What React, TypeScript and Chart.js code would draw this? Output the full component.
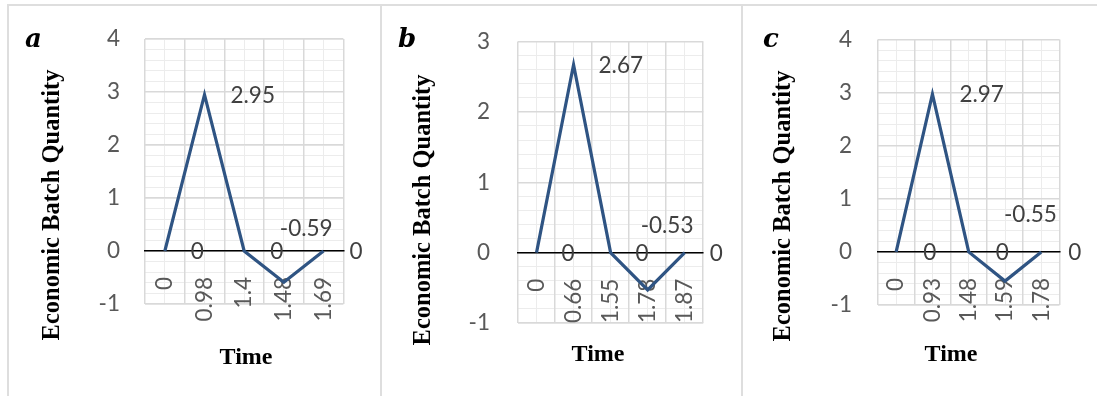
import React, { useEffect, useRef } from "react";
import { Chart, registerables } from "chart.js";

Chart.register(...registerables);

// ---------- data ----------
const TIME_A = ["0", "0.98", "1.4", "1.48", "1.69"];
const EBQ_A = [0, 2.95, 0, -0.59, 0];
const Y_TICKS_A = [-1, 0, 1, 2, 3, 4];

const TIME_B = ["0", "0.66", "1.55", "1.78", "1.87"];
const EBQ_B = [0, 2.67, 0, -0.53, 0];
const Y_TICKS_B = [-1, 0, 1, 2, 3];

const TIME_C = ["0", "0.93", "1.48", "1.59", "1.78"];
const EBQ_C = [0, 2.97, 0, -0.55, 0];
const Y_TICKS_C = [-1, 0, 1, 2, 3, 4];

const PANEL_LETTERS = ["a", "b", "c"];
const Y_TITLE = "Economic Batch Quantity";
const X_TITLE = "Time";

// ---------- layout / style (page coordinates) ----------
const LAYOUT_A = {
  canvasLeft: 8, canvasWidth: 372, borderLeft: 7,
  area: { left: 145, right: 345, top: 39, bottom: 304 },
  tickGap: 25, letterAt: [25, 47], yTitleAt: [53, 205], xTitleAt: [246, 358],
  labelDx: 26, negLabel: [-4, -54],
};
const LAYOUT_B = {
  canvasLeft: 381, canvasWidth: 360, borderLeft: 380,
  area: { left: 518, right: 708, top: 39, bottom: 323 },
  tickGap: 28, letterAt: [398, 47], yTitleAt: [424, 210], xTitleAt: [598, 355],
  labelDx: 25, negLabel: [-7, -64],
};
const LAYOUT_C = {
  canvasLeft: 742, canvasWidth: 355, borderLeft: 741,
  area: { left: 878, right: 1070, top: 39, bottom: 305 },
  tickGap: 26, letterAt: [763, 47], yTitleAt: [784, 206], xTitleAt: [951, 355],
  labelDx: 27, negLabel: [-1, -66],
};

const PAGE_H = 396;
const LINE_COLOR = "#2f5483";
const TICK_COLOR = "#595959";
const LABEL_COLOR = "#404040";
const MAJOR_GRID = "#d9d9d9";
const MINOR_GRID = "#ececec";
const TICK_FONT = { family: "Lato", size: 22.5 };
const SERIF = '"Liberation Serif", "Times New Roman", serif';

const panelTextPlugin = {
  id: "panelText",
  afterDatasetsDraw(chart: any, _args: any, opts: any) {
    const ctx = chart.ctx;
    const meta = chart.getDatasetMeta(0);
    const values = chart.data.datasets[0].data;
    ctx.save();
    ctx.font = `${TICK_FONT.size}px ${TICK_FONT.family}`;
    ctx.fillStyle = LABEL_COLOR;
    ctx.textAlign = "left";
    ctx.textBaseline = "middle";
    meta.data.forEach((pt: any, i: number) => {
      const v = values[i];
      const txt = String(v);
      if (v < 0) {
        ctx.fillText(txt, pt.x + opts.negLabel[0], pt.y + opts.negLabel[1]);
      } else {
        ctx.fillText(txt, pt.x + opts.labelDx, pt.y + 1);
      }
    });
    ctx.restore();
  },
  afterDraw(chart: any, _args: any, opts: any) {
    const ctx = chart.ctx;
    const off = opts.offset;
    ctx.save();
    ctx.fillStyle = "#000";
    // panel letter
    ctx.font = `italic bold 26px "DejaVu Serif", serif`;
    ctx.textAlign = "left";
    ctx.textBaseline = "alphabetic";
    ctx.fillText(opts.letter, opts.letterAt[0] - off, opts.letterAt[1]);
    // x title
    ctx.font = `bold 24px ${SERIF}`;
    ctx.textAlign = "center";
    ctx.textBaseline = "middle";
    ctx.fillText(X_TITLE, opts.xTitleAt[0] - off, opts.xTitleAt[1]);
    // y title
    ctx.font = `bold 24.5px ${SERIF}`;
    ctx.translate(opts.yTitleAt[0] - off, opts.yTitleAt[1]);
    ctx.rotate(-Math.PI / 2);
    ctx.fillText(Y_TITLE, 0, 0);
    ctx.restore();
  },
};

function Panel({ letter, labels, values, yTicks, layout }: any) {
  const ref = useRef<HTMLCanvasElement | null>(null);
  useEffect(() => {
    if (!ref.current) return;
    const off = layout.canvasLeft;
    const a = layout.area;
    const leftW = a.left - off;
    const yMin = yTicks[0];
    const yMax = yTicks[yTicks.length - 1];
    const chart = new Chart(ref.current, {
      type: "line",
      data: {
        labels,
        datasets: [
          {
            data: values,
            borderColor: LINE_COLOR,
            backgroundColor: LINE_COLOR,
            borderWidth: 3.2,
            pointRadius: 0,
            tension: 0,
            fill: false,
            xAxisID: "x",
            yAxisID: "y",
          },
        ],
      },
      options: {
        responsive: false,
        animation: false,
        events: [],
        layout: {
          padding: {
            left: 0,
            top: a.top,
            right: layout.canvasWidth - (a.right - off),
            bottom: PAGE_H - a.bottom,
          },
        },
        plugins: {
          legend: { display: false },
          tooltip: { enabled: false },
          title: { display: false },
          panelText: {
            letter,
            offset: off,
            letterAt: layout.letterAt,
            xTitleAt: layout.xTitleAt,
            yTitleAt: layout.yTitleAt,
            labelDx: layout.labelDx,
            negLabel: layout.negLabel,
          },
        } as any,
        scales: {
          x: {
            type: "category",
            axis: "x",
            position: { y: 0 } as any,
            offset: true,
            grid: { offset: true, color: MAJOR_GRID, lineWidth: 1.5, drawTicks: false, z: -1 },
            border: { display: true, color: "#000", width: 1.5, z: 0 },
            ticks: {
              color: TICK_COLOR,
              font: TICK_FONT,
              minRotation: 90,
              maxRotation: 90,
              autoSkip: false,
              padding: 26,
            },
          },
          x2: {
            type: "category",
            axis: "x",
            position: { y: 0 } as any,
            offset: true,
            grid: { offset: false, color: MINOR_GRID, lineWidth: 1, drawTicks: false, z: -3 },
            border: { display: false },
            ticks: { display: false },
          },
          y: {
            type: "linear",
            position: "left",
            min: yMin,
            max: yMax,
            grid: { color: MAJOR_GRID, lineWidth: 1.5, drawTicks: false, z: -2 },
            border: { display: false },
            ticks: {
              stepSize: 1,
              color: TICK_COLOR,
              font: TICK_FONT,
              padding: layout.tickGap,
            },
            afterFit: (s: any) => {
              s.width = leftW;
            },
          },
          y2: {
            type: "linear",
            position: "left",
            min: yMin,
            max: yMax,
            grid: { color: MINOR_GRID, lineWidth: 1, drawTicks: false, z: -3 },
            border: { display: false },
            ticks: { display: false, stepSize: 0.2 },
            afterFit: (s: any) => {
              s.width = 0;
            },
          },
        } as any,
      },
      plugins: [panelTextPlugin as any],
    });
    let alive = true;
    if ((document as any).fonts && (document as any).fonts.ready) {
      (document as any).fonts.ready.then(() => {
        if (alive) chart.update();
      });
    }
    return () => {
      alive = false;
      chart.destroy();
    };
  }, [letter, labels, values, yTicks, layout]);

  return (
    <canvas
      ref={ref}
      width={layout.canvasWidth}
      height={PAGE_H}
      style={{
        position: "absolute",
        left: layout.canvasLeft,
        top: 0,
        width: layout.canvasWidth,
        height: PAGE_H,
      }}
    />
  );
}

const PANELS = [
  { letter: PANEL_LETTERS[0], labels: TIME_A, values: EBQ_A, yTicks: Y_TICKS_A, layout: LAYOUT_A },
  { letter: PANEL_LETTERS[1], labels: TIME_B, values: EBQ_B, yTicks: Y_TICKS_B, layout: LAYOUT_B },
  { letter: PANEL_LETTERS[2], labels: TIME_C, values: EBQ_C, yTicks: Y_TICKS_C, layout: LAYOUT_C },
];

export default function App() {
  return (
    <div
      style={{
        position: "absolute",
        left: 0,
        top: 0,
        width: 1097,
        height: PAGE_H,
        background: "#fff",
        overflow: "hidden",
      }}
    >
      {PANELS.map((p) => (
        <div
          key={"box-" + p.letter}
          style={{
            position: "absolute",
            left: p.layout.borderLeft,
            top: 4,
            width: 1200,
            height: 500,
            borderTop: "2px solid #dedede",
            borderLeft: "2px solid #dedede",
          }}
        />
      ))}
      {PANELS.map((p) => (
        <Panel key={p.letter} {...p} />
      ))}
    </div>
  );
}
